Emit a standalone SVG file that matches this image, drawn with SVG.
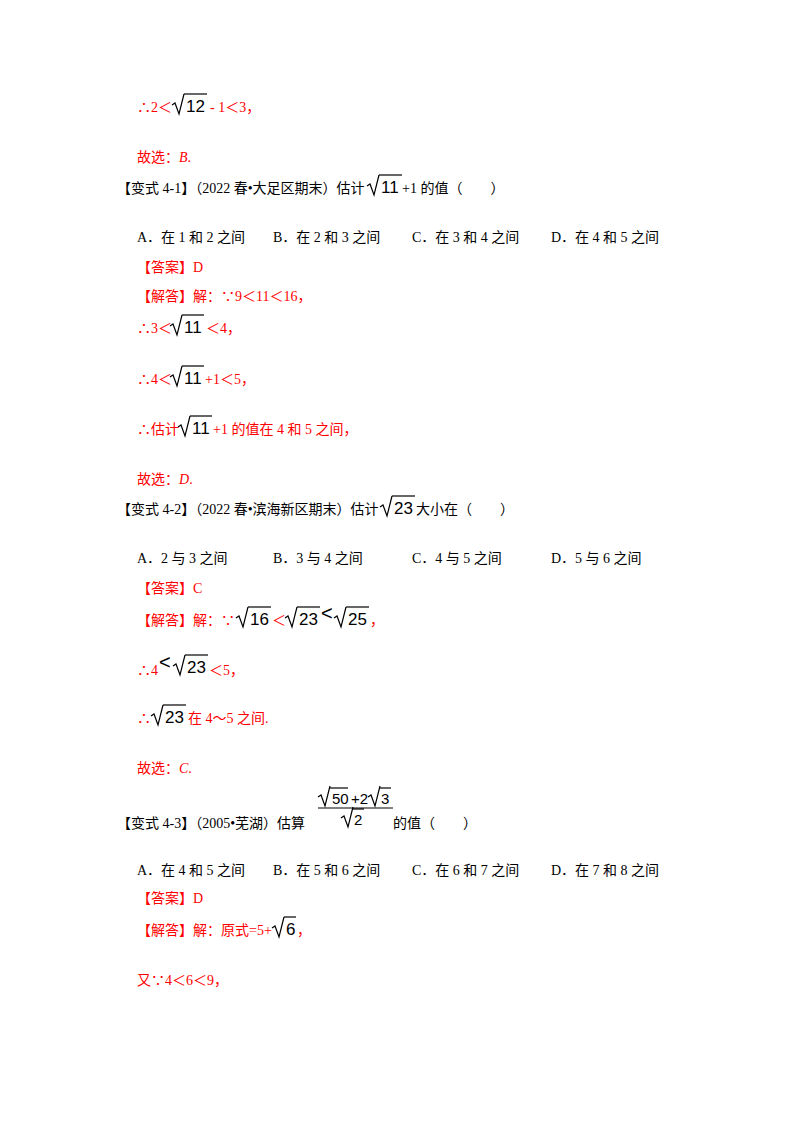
<svg xmlns="http://www.w3.org/2000/svg" width="800" height="1132" viewBox="0 0 800 1132">
<style>
text{font-family:"Liberation Serif","Noto Sans CJK SC",serif;font-size:14px;fill:#000}
.r{fill:#ff0000}
.m{font-family:"Liberation Sans",sans-serif;font-size:17px;fill:#000}
.m15{font-size:15px}
.lt{font-family:"Liberation Sans",sans-serif;font-size:20px}
.i{font-style:italic}
.s{fill:none;stroke:#000;stroke-width:1.2}
</style>
<defs><path id="rad" class="s" d="M0,-7 l3,-2 l4,11 l5,-20"/></defs>
<rect width="800" height="1132" fill="#fff"/>
<g id="sol1">
<text x="137" y="112" class="r">∴2＜</text>
<use href="#rad" x="172" y="112"/><path class="s" d="M184,94 h23"/><text class="m" x="186" y="112">12</text>
<text x="210" y="112" class="r">- 1＜3，</text>
<text x="137" y="162" class="r">故选：<tspan class="i">B</tspan>.</text>
</g>
<g id="q41">
<text x="117" y="193">【变式 4-1】（2022 春•大足区期末）估计</text>
<use href="#rad" x="367" y="193"/><path class="s" d="M379,175 h23"/><text class="m" x="381" y="193">11</text>
<text x="402" y="193">+1 的值（　　）</text>
<text x="137" y="242">A．在 1 和 2 之间</text>
<text x="273" y="242">B．在 2 和 3 之间</text>
<text x="412" y="242">C．在 3 和 4 之间</text>
<text x="551" y="242">D．在 4 和 5 之间</text>
<text x="137" y="272" class="r">【答案】D</text>
<text x="137" y="301" class="r">【解答】解：∵9＜11＜16，</text>
<text x="137" y="333" class="r">∴3＜</text>
<use href="#rad" x="170" y="333"/><path class="s" d="M182,315 h22"/><text class="m" x="184" y="333">11</text>
<text x="206" y="333" class="r">＜4，</text>
<text x="137" y="384" class="r">∴4＜</text>
<use href="#rad" x="170" y="384"/><path class="s" d="M182,366 h22"/><text class="m" x="184" y="384">11</text>
<text x="205" y="384" class="r">+1＜5，</text>
<text x="137" y="434" class="r">∴估计</text>
<use href="#rad" x="178" y="434"/><path class="s" d="M190,416 h22"/><text class="m" x="192" y="434">11</text>
<text x="213" y="434" class="r">+1 的值在 4 和 5 之间，</text>
<text x="137" y="484" class="r">故选：<tspan class="i">D</tspan>.</text>
</g>
<g id="q42">
<text x="117" y="514">【变式 4-2】（2022 春•滨海新区期末）估计</text>
<use href="#rad" x="380" y="514"/><path class="s" d="M392,496 h23"/><text class="m" x="394" y="514">23</text>
<text x="416" y="514">大小在（　　）</text>
<text x="137" y="563">A．2 与 3 之间</text>
<text x="273" y="563">B．3 与 4 之间</text>
<text x="412" y="563">C．4 与 5 之间</text>
<text x="551" y="563">D．5 与 6 之间</text>
<text x="137" y="593" class="r">【答案】C</text>
<text x="137" y="625" class="r">【解答】解：∵</text>
<use href="#rad" x="236" y="625"/><path class="s" d="M248,607 h23"/><text class="m" x="250" y="625">16</text>
<text x="272" y="625" class="r">＜</text>
<use href="#rad" x="285" y="625"/><path class="s" d="M297,607 h23"/><text class="m" x="299" y="625">23</text>
<text x="321" y="620" class="lt">&lt;</text>
<use href="#rad" x="334" y="625"/><path class="s" d="M346,607 h23"/><text class="m" x="348" y="625">25</text>
<text x="370" y="625" class="r">，</text>
<text x="137" y="675" class="r">∴4</text>
<text x="159" y="669" class="lt">&lt;</text>
<use href="#rad" x="173" y="673"/><path class="s" d="M185,655 h23"/><text class="m" x="187" y="673">23</text>
<text x="209" y="675" class="r">＜5，</text>
<text x="137" y="723" class="r">∴</text>
<use href="#rad" x="151" y="723"/><path class="s" d="M163,705 h23"/><text class="m" x="165" y="723">23</text>
<text x="188" y="723" class="r">在 4～5 之间.</text>
<text x="137" y="773" class="r">故选：<tspan class="i">C</tspan>.</text>
</g>
<g id="q43">
<text x="117" y="828">【变式 4-3】（2005•芜湖）估算</text>
<use href="#rad" x="318" y="804"/><path class="s" d="M330,788 h18"/><text class="m m15" x="332" y="804">50</text>
<text class="m m15" x="351" y="804">+2</text>
<use href="#rad" x="368" y="804"/><path class="s" d="M380,788 h11"/><text class="m m15" x="381" y="804">3</text>
<path d="M318,808 h75" stroke="#000" stroke-width="1"/>
<use href="#rad" x="341" y="825"/><path class="s" d="M353,809 h11"/><text class="m m15" x="354" y="825">2</text>
<text x="393" y="828">的值（　　）</text>
<text x="137" y="875">A．在 4 和 5 之间</text>
<text x="273" y="875">B．在 5 和 6 之间</text>
<text x="412" y="875">C．在 6 和 7 之间</text>
<text x="551" y="875">D．在 7 和 8 之间</text>
<text x="137" y="903" class="r">【答案】D</text>
<text x="137" y="935" class="r">【解答】解：原式=5+</text>
<use href="#rad" x="272" y="935"/><path class="s" d="M284,917 h12"/><text class="m" x="286" y="935">6</text>
<text x="297" y="935" class="r">，</text>
<text x="137" y="985" class="r">又∵4＜6＜9，</text>
</g>
</svg>
